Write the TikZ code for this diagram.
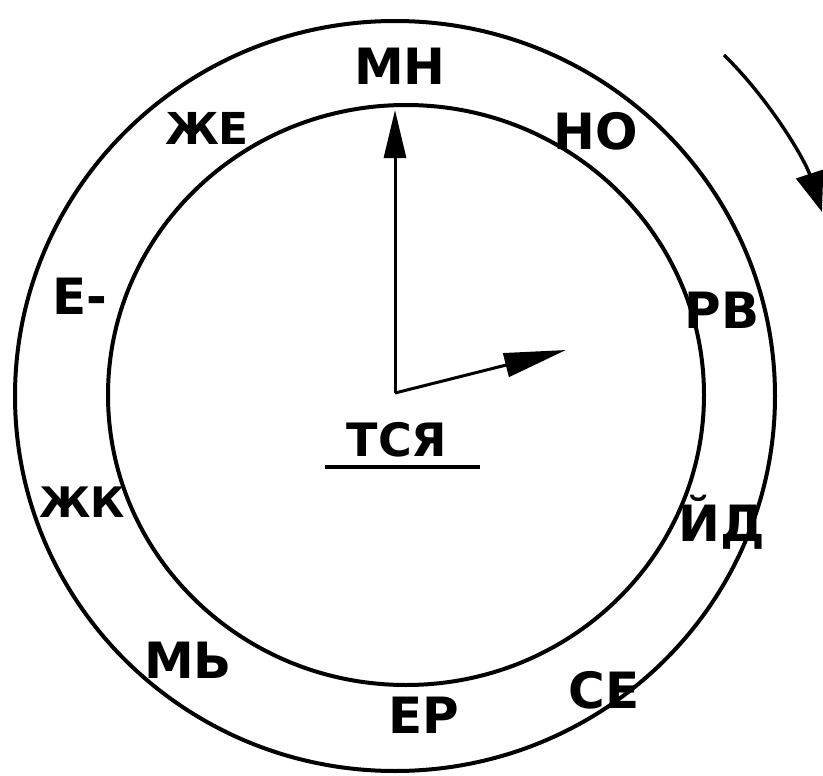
\documentclass[tikz,border=0pt]{standalone}
\usepackage{fontspec}
\setmainfont{DejaVu Sans}
\usetikzlibrary{arrows.meta}
\begin{document}
\begin{tikzpicture}[x=1pt,y=-1pt,
  ring/.style={draw=black,line width=4pt},
  hand/.style={draw=black,line width=3pt,-{Triangle[length=48pt,width=22pt]}},
  lbl/.style={font=\fontsize{50}{50}\bfseries\selectfont,inner sep=0pt}]
\useasboundingbox (0,0) rectangle (823,776);
% circles
\draw[ring] (395,396) ellipse [x radius=380pt, y radius=375pt];
\draw[ring] (406,395) ellipse [x radius=298pt, y radius=290pt];
\coordinate (c) at (395,393);
\coordinate (h) at (395,110);
\coordinate (m) at (566,350);
\draw[hand] (c) -- (h);
\draw[hand,-{Triangle[length=62pt,width=24pt]}] (c) -- (m);
% curved arrow
\coordinate (a1) at (724,55);
\coordinate (a2) at (822,212);
\draw[line width=3.4pt,-{Triangle[length=40pt,width=28pt]}] (a1) .. controls (770,100) and (805,160) .. (a2);
% labels
\node[lbl] (mn) at (400,66) {МН};
\node[lbl] (no) at (596,131) {НО};
\node[lbl] (rv) at (722,310) {РВ};
\node[lbl] (yd) at (722,522) {ЙД};
\node[lbl] (se) at (604,690) {СЕ};
\node[lbl] (er) at (424,715) {ЕР};
\node[lbl] (mb) at (188,660) {МЬ};
\node[lbl,font=\fontsize{42}{42}\bfseries\selectfont] (zhk) at (82,502) {ЖК};
\node[lbl] (em) at (80,296) {Е-};
\node[lbl,font=\fontsize{44}{44}\bfseries\selectfont] (zhe) at (207,128) {ЖЕ};
\node[lbl,font=\fontsize{46}{46}\bfseries\selectfont] (tsya) at (397,440) {ТСЯ};
\coordinate (u1) at (325,467);
\coordinate (u2) at (480,467);
\draw[line width=3.5pt] (u1) -- (u2);
\end{tikzpicture}
\end{document}
